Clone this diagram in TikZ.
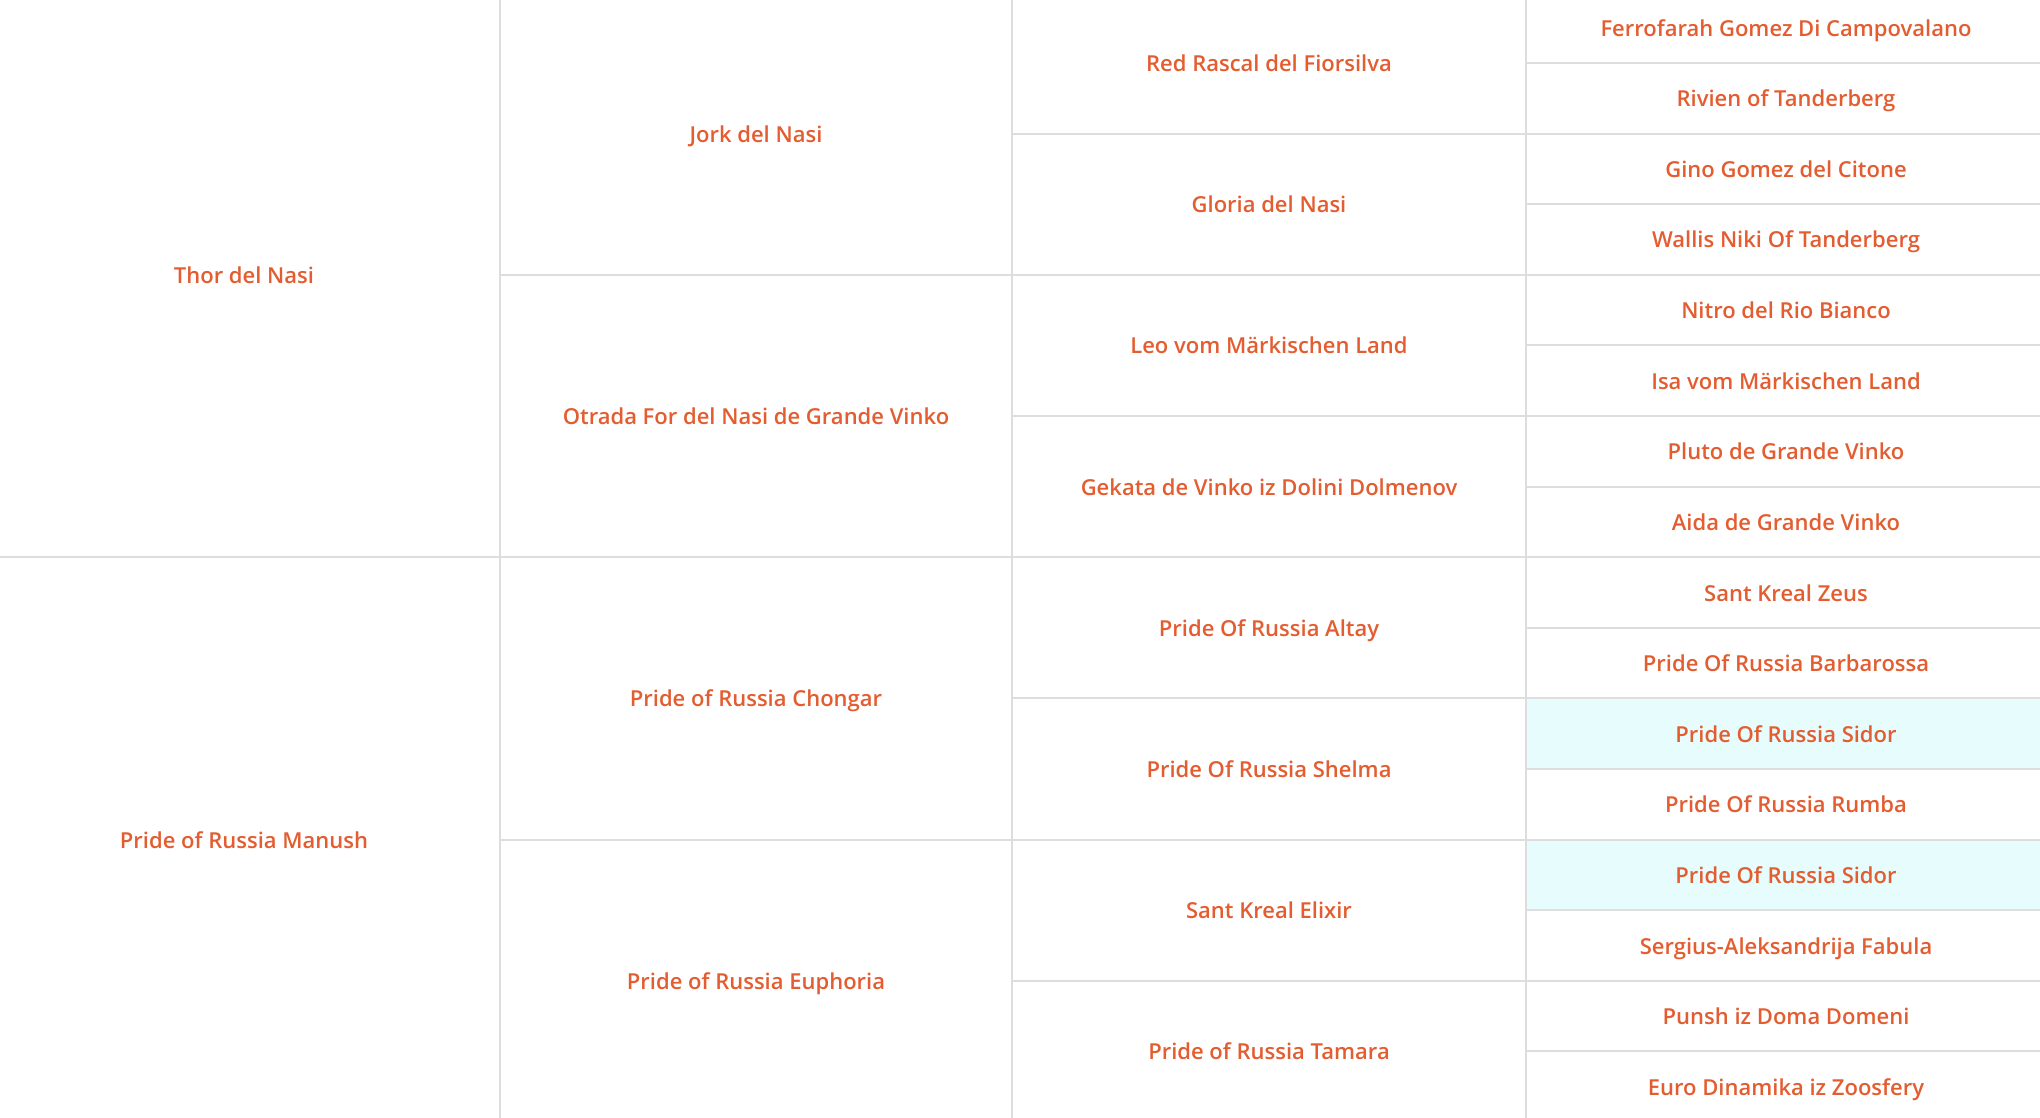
\documentclass[tikz,border=0pt]{standalone}
\usepackage{fontspec}
\IfFontExistsTF{Open Sans Semibold}
    {\newfontfamily\namefont{Open Sans Semibold}\def\namesize{11}}
    {\newfontfamily\namefont{Open Sans}[UprightFont=* Bold]\def\namesize{10.75}}
\usepackage{tikz}
\definecolor{namecolor}{HTML}{E35D30}
\definecolor{gridgray}{HTML}{DDDDDD}
\definecolor{dupcyan}{HTML}{E6FCFD}

\tikzset{
    cell/.style={draw=gridgray, line width=1pt, text=namecolor, inner sep=0pt, outer sep=0pt,
                 font=\namefont\fontsize{\namesize}{13}\selectfont, text height=8.5pt, text depth=0pt,
                 minimum width=256pt},
    gen1/.style={cell, minimum height=282.3pt},
    gen2/.style={cell, minimum height=141.15pt},
    gen3/.style={cell, minimum width=257pt, minimum height=70.57pt},
    gen4/.style={cell, minimum width=260pt, minimum height=35.3pt},
    dup/.style={fill=dupcyan},
}

\begin{document}
\begin{tikzpicture}[x=0.5pt, y=-0.5pt]
    \useasboundingbox (0,0) rectangle (2040,1118);
    \fill[white] (0,0) rectangle (2040,1118);
    \clip (0,0) rectangle (2040,1118);

    % parents
    \node[gen1](s)     at (244,274.8)     {Thor del Nasi};
    \node[gen1](d)     at (244,839.6)     {Pride of Russia Manush};

    % grandparents
    \node[gen2](ss)    at (756,133.6)     {Jork del Nasi};
    \node[gen2](sd)    at (756,416.0)     {Otrada For del Nasi de Grande Vinko};
    \node[gen2](ds)    at (756,698.4)     {Pride of Russia Chongar};
    \node[gen2](dd)    at (756,980.8)     {Pride of Russia Euphoria};

    % great-grandparents
    \node[gen3](sss)   at (1269,63.0)     {Red Rascal del Fiorsilva};
    \node[gen3](ssd)   at (1269,204.2)    {Gloria del Nasi};
    \node[gen3](sds)   at (1269,345.4)    {Leo vom Märkischen Land};
    \node[gen3](sdd)   at (1269,486.6)    {Gekata de Vinko iz Dolini Dolmenov};
    \node[gen3](dss)   at (1269,627.8)    {Pride Of Russia Altay};
    \node[gen3](dsd)   at (1269,769.0)    {Pride Of Russia Shelma};
    \node[gen3](dds)   at (1269,910.2)    {Sant Kreal Elixir};
    \node[gen3](ddd)   at (1269,1051.4)   {Pride of Russia Tamara};

    % great-great-grandparents
    \node[gen4](ssss)  at (1786,27.7)     {Ferrofarah Gomez Di Campovalano};
    \node[gen4](sssd)  at (1786,98.3)     {Rivien of Tanderberg};
    \node[gen4](ssds)  at (1786,168.9)    {Gino Gomez del Citone};
    \node[gen4](ssdd)  at (1786,239.5)    {Wallis Niki Of Tanderberg};
    \node[gen4](sdss)  at (1786,310.1)    {Nitro del Rio Bianco};
    \node[gen4](sdsd)  at (1786,380.7)    {Isa vom Märkischen Land};
    \node[gen4](sdds)  at (1786,451.3)    {Pluto de Grande Vinko};
    \node[gen4](sddd)  at (1786,521.9)    {Aida de Grande Vinko};
    \node[gen4](dsss)  at (1786,592.5)    {Sant Kreal Zeus};
    \node[gen4](dssd)  at (1786,663.1)    {Pride Of Russia Barbarossa};
    \node[gen4,dup](dsds) at (1786,733.7) {Pride Of Russia Sidor};
    \node[gen4](dsdd)  at (1786,804.3)    {Pride Of Russia Rumba};
    \node[gen4,dup](ddss) at (1786,874.9) {Pride Of Russia Sidor};
    \node[gen4](ddsd)  at (1786,945.5)    {Sergius-Aleksandrija Fabula};
    \node[gen4](ddds)  at (1786,1016.1)   {Punsh iz Doma Domeni};
    \node[gen4](dddd)  at (1786,1086.7)   {Euro Dinamika iz Zoosfery};
\end{tikzpicture}
\end{document}
